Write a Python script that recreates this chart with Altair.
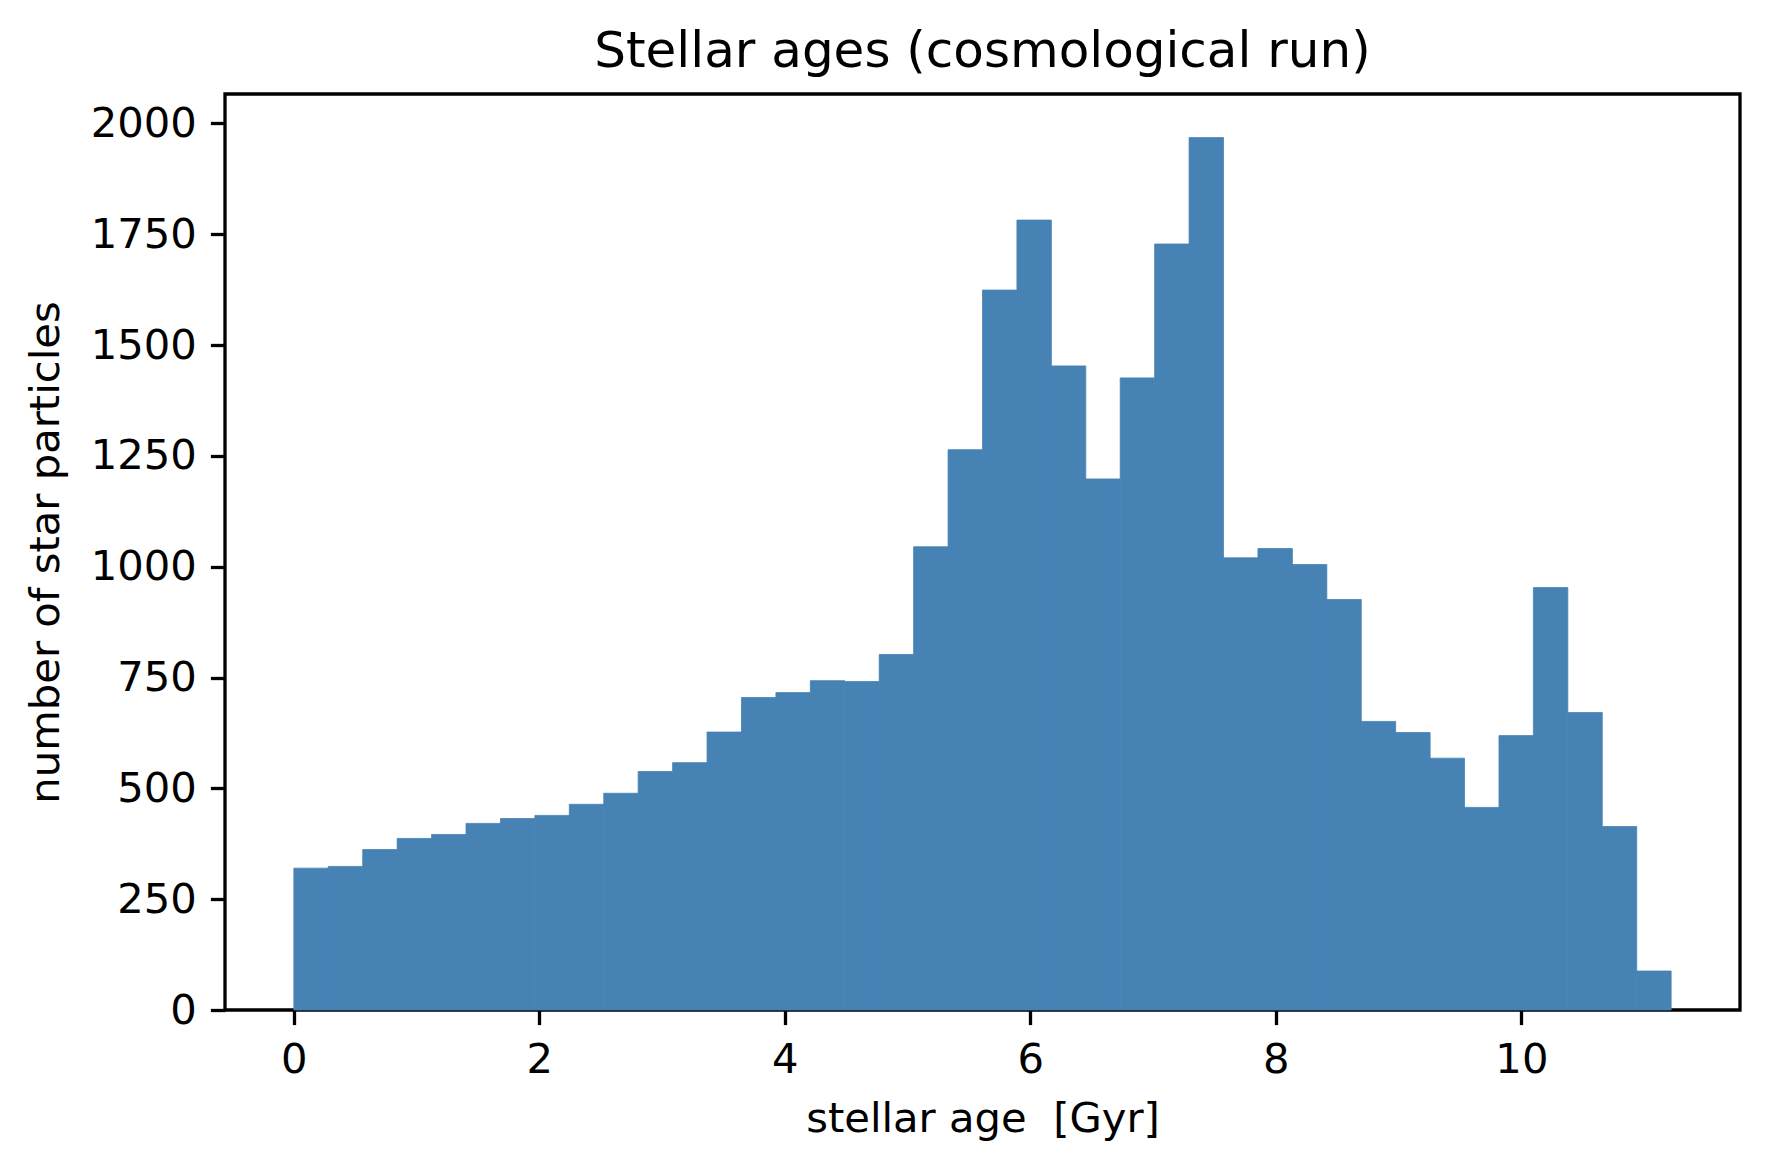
import altair as alt
import pandas as pd

# Histogram of stellar ages: 40 equal-width bins from 0 to 11.22 Gyr
age_min = 0.0
age_max = 11.22
n_bins = 40
counts = [320, 324, 362, 387, 396, 421, 432, 439, 464, 489,
          538, 558, 627, 705, 716, 743, 741, 802, 1045, 1264,
          1624, 1782, 1453, 1198, 1426, 1728, 1968, 1020, 1041, 1005,
          926, 651, 626, 568, 457, 619, 953, 671, 414, 88]
x_ticks = [0, 2, 4, 6, 8, 10]
y_ticks = [0, 250, 500, 750, 1000, 1250, 1500, 1750, 2000]

w = (age_max - age_min) / n_bins
df = pd.DataFrame({
    "left": [age_min + i * w for i in range(n_bins)],
    "right": [age_min + (i + 1) * w for i in range(n_bins)],
    "count": counts,
    "zero": [0] * n_bins,
})

span = age_max - age_min
x_dom = [age_min - 0.05 * span, age_max + 0.05 * span]
y_dom = [0, max(counts) * 1.05]

FONT = "DejaVu Sans"
LS = 41.7
STEEL = "#4682b4"

chart = alt.Chart(df).mark_rect(color=STEEL, stroke=STEEL, strokeWidth=0.8).encode(
    x=alt.X("left:Q",
            scale=alt.Scale(domain=x_dom, nice=False, zero=False),
            axis=alt.Axis(values=x_ticks, title="stellar age\u00a0\u00a0[Gyr]", grid=False,
                          domain=False, tickSize=14.6, tickWidth=3.3, tickColor="black",
                          labelFont=FONT, labelFontSize=LS, labelColor="black",
                          labelPadding=15, labelFlush=False, format="d",
                          titleFont=FONT, titleFontSize=LS, titleFontWeight="normal",
                          titleColor="black", titleBaseline="alphabetic",
                          titleX=757.5, titleY=121, titleAlign="center")),
    x2="right:Q",
    y=alt.Y("count:Q",
            scale=alt.Scale(domain=y_dom, nice=False),
            axis=alt.Axis(values=y_ticks, title="number of star particles", grid=False,
                          domain=False, tickSize=14.6, tickWidth=3.3, tickColor="black",
                          labelFont=FONT, labelFontSize=LS, labelColor="black",
                          labelPadding=14, labelFlush=False, labelBaseline="middle",
                          format="d",
                          titleFont=FONT, titleFontSize=LS, titleFontWeight="normal",
                          titleColor="black", titleBaseline="alphabetic",
                          titleAngle=270, titleX=-167, titleY=458, titleAlign="center")),
    y2="zero:Q",
).properties(
    width=1515,
    height=916,
    title=alt.TitleParams("Stellar ages (cosmological run)", font=FONT, fontSize=50,
                          fontWeight="normal", color="black", anchor="middle",
                          frame="group", baseline="alphabetic", offset=28, dy=51),
    autosize=alt.AutoSizeParams(type="none"),
    padding={"left": 217, "top": 86, "right": 20, "bottom": 150},
    background="white",
).configure_view(
    stroke="black", strokeWidth=3.3
)

chart.save("out.html", embed_options={"renderer": "svg", "actions": False})
